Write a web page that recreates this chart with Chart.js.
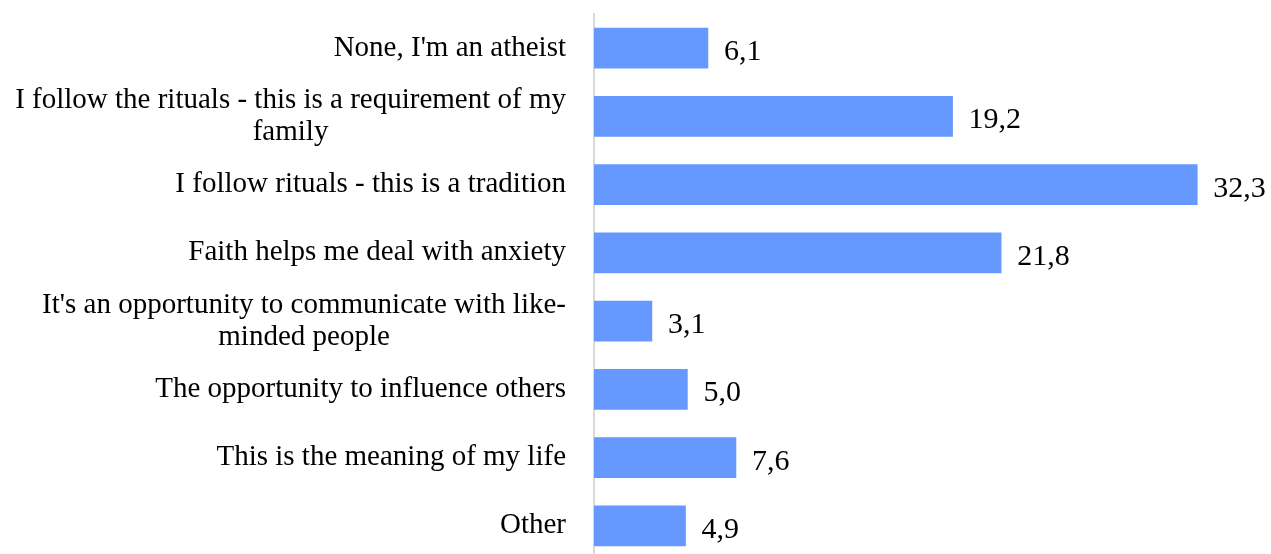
<!DOCTYPE html>
<html>
<head>
<meta charset="utf-8">
<script src="https://cdn.jsdelivr.net/npm/chart.js@4.4.1/dist/chart.umd.min.js"></script>
<style>
  html, body { margin: 0; padding: 0; background: #fff; overflow: hidden; }
  #wrap { width: 1271px; height: 562px; }
</style>
</head>
<body>
<div id="wrap"><canvas id="myChart"></canvas></div>
<script>
const categories = [
    "None, I'm an atheist",
    ["I follow the rituals - this is a requirement of my", "family"],
    "I follow rituals - this is a tradition",
    "Faith helps me deal with anxiety",
    ["It's an opportunity to communicate with like-", "minded people"],
    "The opportunity to influence others",
    "This is the meaning of my life",
    "Other"
];
const values = [6.1, 19.2, 32.3, 21.8, 3.1, 5.0, 7.6, 4.9];

const ctx = document.getElementById('myChart');
const serif = "'Liberation Serif', 'Times New Roman', serif";

// numbers at the end of every bar, decimal comma
const valueLabels = {
    id: 'valueLabels',
    afterDatasetsDraw(chart) {
        const c = chart.ctx;
        const meta = chart.getDatasetMeta(0);
        c.save();
        c.font = "30px " + serif;
        c.fillStyle = '#000';
        c.textAlign = 'left';
        c.textBaseline = 'alphabetic';
        meta.data.forEach((bar, i) => {
            const txt = values[i].toFixed(1).replace('.', ',');
            c.fillText(txt, bar.x + 16, bar.y + 12);
        });
        c.restore();
    }
};

// category labels: block right aligned, lines centred inside the block
const catLabels = {
    id: 'catLabels',
    afterDraw(chart) {
        const c = chart.ctx;
        const yScale = chart.scales.y;
        const right = yScale.right - 28;
        const lh = 32;
        c.save();
        c.font = "29px " + serif;
        c.fillStyle = '#000';
        c.textAlign = 'center';
        c.textBaseline = 'middle';
        categories.forEach((lab, i) => {
            const lines = Array.isArray(lab) ? lab : [lab];
            const w = Math.max(...lines.map(l => c.measureText(l).width));
            const cx = right - w / 2;
            const yc = yScale.getPixelForTick(i);
            lines.forEach((l, j) => {
                c.fillText(l, cx, yc + (j - (lines.length - 1) / 2) * lh);
            });
        });
        c.restore();
    }
};

new Chart(ctx, {
    type: 'bar',
    data: {
        labels: categories,
        datasets: [{
            data: values,
            backgroundColor: '#6699FF',
            barThickness: 40
        }]
    },
    plugins: [valueLabels, catLabels],
    options: {
        indexAxis: 'y',
        responsive: true,
        maintainAspectRatio: false,
        animation: false,
        layout: { padding: { top: 14, bottom: 2, left: 0, right: 42 } },
        plugins: {
            legend: { display: false },
            tooltip: { enabled: false }
        },
        scales: {
            x: {
                display: false,
                min: 0,
                max: 34
            },
            y: {
                grid: { display: false, drawTicks: false },
                border: { display: true, color: '#d9d9d9', width: 2 },
                ticks: { display: false },
                afterFit(scale) {
                    scale.width = 594;
                    scale.paddingTop = 0;
                    scale.paddingBottom = 0;
                }
            }
        }
    }
});
</script>
</body>
</html>
